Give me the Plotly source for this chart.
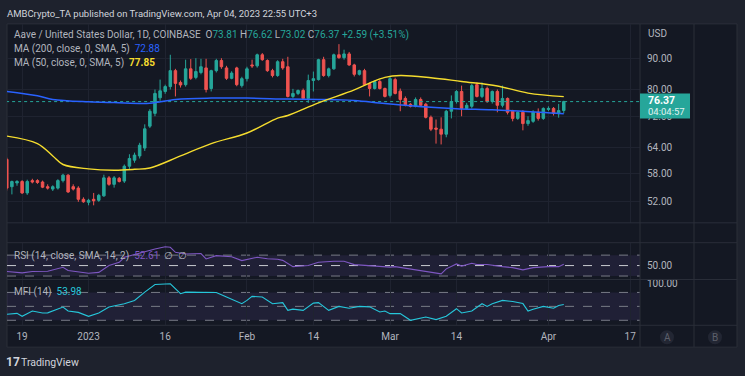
import math
import pandas as pd
import plotly.graph_objects as go

# ---------------- data ----------------
dates = pd.date_range("2022-12-16", "2023-04-04", freq="D")

open_ = [
    # Dec 16-31
    61.2, 55.1, 55.9, 56.2, 53.8, 56.4, 56.4, 56.1, 55.1, 54.6, 54.8, 56.4, 57.6, 55.1, 54.8, 52.5,
    # Jan
    51.9, 52.5, 52.3, 53.2, 57.0, 55.6, 56.9, 56.3, 59.6, 61.0, 62.0, 63.9, 69.5, 73.0, 77.5, 79.4,
    80.9, 86.0, 82.2, 81.5, 86.6, 83.8, 85.4, 86.9, 80.3, 86.0, 89.4, 86.9, 83.5, 86.9, 81.2,
    # Feb
    83.4, 87.9, 87.6, 91.4, 89.4, 86.0, 84.4, 89.0, 87.3, 77.9, 78.8, 79.7, 77.3, 82.8,
    83.1, 89.7, 84.4, 86.6, 91.4, 90.4, 91.7, 87.9, 84.8, 86.0, 81.9, 80.3, 82.5, 80.3,
    # Mar
    78.2, 83.1, 79.5, 77.3, 75.6, 75.0, 77.0, 75.6, 71.9, 69.0, 68.7, 67.4, 73.6, 76.4, 79.4, 74.4,
    75.0, 81.5, 77.9, 80.3, 76.4, 79.4, 75.3, 77.3, 73.6, 71.6, 73.3, 70.2, 70.8, 73.3, 71.6,
    # Apr 1-4
    74.1, 74.4, 72.9, 73.81,
]
high = [
    61.6, 56.4, 56.5, 56.5, 56.6, 56.8, 56.7, 56.4, 55.6, 55.4, 56.7, 57.9, 57.8, 55.6, 55.2, 52.9,
    52.6, 53.8, 53.6, 57.7, 57.4, 57.4, 57.2, 60.0, 62.4, 62.8, 65.2, 70.0, 74.2, 80.0, 83.1, 81.5,
    91.4, 86.6, 82.8, 89.7, 89.9, 90.2, 90.0, 90.0, 86.3, 90.0, 90.2, 87.6, 85.8, 87.3, 84.0,
    87.3, 89.7, 91.8, 92.0, 89.8, 86.6, 89.5, 90.0, 90.7, 80.2, 80.0, 80.3, 84.7, 85.7,
    90.0, 90.7, 87.0, 91.8, 95.2, 93.2, 92.4, 88.3, 86.3, 86.6, 82.2, 82.8, 83.1, 80.6,
    84.1, 83.7, 80.3, 77.9, 75.9, 77.6, 77.6, 76.0, 72.4, 71.3, 71.9, 74.0, 78.2, 79.8, 81.2, 76.0,
    81.8, 82.2, 82.2, 80.9, 79.7, 80.0, 81.2, 77.6, 74.0, 73.6, 73.9, 72.2, 73.9, 74.4, 74.7,
    75.0, 74.8, 75.7, 76.62,
]
low = [
    54.3, 53.5, 55.3, 53.6, 53.4, 55.8, 55.7, 54.8, 54.5, 54.2, 54.5, 56.0, 53.8, 54.3, 52.0, 51.8,
    51.3, 51.3, 52.0, 53.0, 55.3, 54.9, 56.0, 55.9, 59.0, 60.4, 61.4, 63.2, 69.0, 72.2, 76.6, 78.7,
    80.0, 77.9, 80.6, 80.9, 83.0, 83.2, 84.8, 79.1, 79.4, 85.4, 86.6, 83.0, 83.2, 81.0, 80.6,
    82.5, 86.9, 87.0, 89.3, 85.6, 83.8, 84.0, 86.3, 77.6, 77.4, 78.3, 76.9, 76.0, 79.4,
    82.8, 84.0, 83.8, 86.3, 90.0, 89.7, 87.6, 84.1, 84.4, 81.2, 77.9, 80.0, 80.0, 77.6,
    77.6, 78.5, 73.6, 75.0, 74.7, 74.7, 74.8, 71.6, 68.2, 65.0, 64.8, 66.6, 71.6, 75.8, 72.2, 74.0,
    74.4, 77.6, 77.4, 76.0, 75.8, 73.3, 74.7, 72.7, 70.8, 71.2, 68.4, 69.6, 70.4, 71.0, 71.2,
    73.6, 72.4, 71.8, 73.02,
]
close = [
    54.8, 56.2, 56.2, 53.8, 56.2, 56.1, 56.0, 55.0, 54.8, 55.1, 56.4, 57.6, 54.0, 54.6, 52.5, 52.0,
    52.3, 52.2, 53.3, 57.0, 55.6, 57.0, 56.2, 59.6, 61.4, 62.2, 64.6, 68.8, 73.6, 78.8, 79.6, 80.9,
    86.0, 81.9, 81.4, 86.6, 83.5, 85.7, 87.3, 80.0, 86.0, 89.4, 87.3, 83.5, 85.2, 81.5, 83.4,
    86.6, 87.6, 91.4, 89.7, 86.0, 84.4, 89.0, 86.9, 77.9, 78.8, 79.7, 77.3, 82.8, 83.4,
    89.7, 84.4, 86.6, 91.4, 90.4, 91.7, 87.9, 84.8, 86.0, 81.5, 80.3, 82.5, 80.3, 77.9,
    83.4, 78.8, 77.0, 75.3, 75.0, 77.0, 75.3, 71.9, 68.7, 68.7, 67.4, 73.6, 76.4, 79.4, 74.4, 75.3,
    81.2, 77.9, 80.3, 76.4, 79.4, 75.3, 77.3, 73.3, 71.6, 73.3, 70.2, 71.0, 73.3, 71.6, 74.4,
    74.4, 73.0, 73.78, 76.37,
]

ma200_dates = ["2022-12-16", "2022-12-22", "2022-12-25", "2023-01-01", "2023-01-06", "2023-01-13",
               "2023-01-18", "2023-01-25", "2023-02-01", "2023-02-09", "2023-02-15", "2023-02-22",
               "2023-02-28", "2023-03-09", "2023-03-14", "2023-03-21", "2023-03-27", "2023-04-04"]
ma200_vals = [79.4, 78.1, 77.0, 76.3, 76.1, 75.9, 77.0, 77.4, 77.4, 77.1, 77.0, 76.7,
              75.8, 74.7, 74.3, 74.0, 73.6, 72.88]

ma50_dates = ["2022-12-16", "2022-12-22", "2022-12-25", "2022-12-27", "2023-01-01", "2023-01-06",
              "2023-01-10", "2023-01-13", "2023-01-19", "2023-01-25", "2023-02-01", "2023-02-07",
              "2023-02-09", "2023-02-15", "2023-02-22", "2023-02-25", "2023-02-28", "2023-03-03",
              "2023-03-09", "2023-03-15", "2023-03-22", "2023-03-28", "2023-04-04"]
ma50_vals = [66.9, 65.0, 62.0, 60.0, 59.0, 58.7, 58.9, 59.2, 62.0, 65.0, 67.7, 71.7,
             72.4, 76.0, 79.9, 82.0, 83.8, 84.4, 83.7, 82.5, 81.1, 78.9, 77.85]

rsi_dates = ["2022-12-16", "2022-12-19", "2022-12-21", "2022-12-24", "2022-12-27", "2022-12-28",
             "2023-01-01", "2023-01-03", "2023-01-05", "2023-01-07", "2023-01-08", "2023-01-11",
             "2023-01-14", "2023-01-16", "2023-01-17", "2023-01-18", "2023-01-20", "2023-01-23",
             "2023-01-24", "2023-01-26", "2023-01-29", "2023-01-31", "2023-02-03", "2023-02-05",
             "2023-02-07", "2023-02-08", "2023-02-10", "2023-02-13", "2023-02-15", "2023-02-18",
             "2023-02-20", "2023-02-22", "2023-02-24", "2023-02-27", "2023-03-01", "2023-03-02",
             "2023-03-06", "2023-03-09", "2023-03-11", "2023-03-12", "2023-03-14", "2023-03-15",
             "2023-03-17", "2023-03-18", "2023-03-20", "2023-03-23", "2023-03-25", "2023-03-27",
             "2023-03-29", "2023-04-01", "2023-04-03", "2023-04-04"]
rsi_vals = [38.6, 36.0, 38.6, 39.0, 46.8, 40.5, 35.4, 37.0, 50.0, 56.3, 65.9, 74.2,
            81.7, 86.2, 85.0, 75.4, 72.2, 73.0, 62.7, 69.0, 67.0, 59.5, 65.9, 63.0,
            62.0, 60.0, 48.0, 50.0, 56.3, 58.2, 58.2, 51.9, 50.5, 47.0, 47.0, 48.0,
            41.8, 37.3, 34.1, 43.7, 53.2, 49.0, 54.5, 52.0, 52.0, 48.0, 46.0, 41.8,
            46.0, 48.0, 48.0, 52.61]

mfi_dates = ["2022-12-16", "2022-12-18", "2022-12-19", "2022-12-21", "2022-12-23", "2022-12-24",
             "2022-12-27", "2022-12-28", "2022-12-30", "2023-01-01", "2023-01-03", "2023-01-05",
             "2023-01-08", "2023-01-10", "2023-01-12", "2023-01-14", "2023-01-17", "2023-01-18",
             "2023-01-19", "2023-01-20", "2023-01-23", "2023-01-26", "2023-01-28", "2023-01-31",
             "2023-02-01", "2023-02-02", "2023-02-04", "2023-02-06", "2023-02-08", "2023-02-09",
             "2023-02-10", "2023-02-12", "2023-02-14", "2023-02-15", "2023-02-17", "2023-02-19",
             "2023-02-21", "2023-02-23", "2023-02-25", "2023-02-27", "2023-02-28", "2023-03-01",
             "2023-03-03", "2023-03-05", "2023-03-08", "2023-03-10", "2023-03-12", "2023-03-14",
             "2023-03-15", "2023-03-17", "2023-03-19", "2023-03-20", "2023-03-21", "2023-03-23",
             "2023-03-25", "2023-03-27", "2023-03-28", "2023-03-29", "2023-03-31", "2023-04-02",
             "2023-04-03", "2023-04-04"]
mfi_vals = [32.9, 35.0, 28.6, 40.0, 35.7, 36.0, 48.6, 40.0, 37.0, 28.6, 35.7, 48.6,
            55.7, 62.8, 80.6, 97.0, 98.6, 87.9, 77.2, 80.6, 80.6, 80.0, 70.0, 55.7,
            62.8, 71.4, 70.0, 55.7, 58.0, 41.4, 44.0, 41.4, 57.0, 58.0, 41.4, 50.0,
            46.0, 50.0, 49.0, 37.8, 40.0, 34.3, 34.3, 20.0, 27.0, 21.5, 28.6, 45.0,
            35.7, 40.0, 55.7, 50.0, 55.7, 62.8, 60.5, 56.0, 40.0, 44.0, 50.0, 46.0,
            52.0, 53.98]

price_ticks = [52, 58, 64, 72, 80, 90]
time_tickvals = ["2022-12-19", "2023-01-01", "2023-01-16", "2023-02-01", "2023-02-14",
                 "2023-03-01", "2023-03-14", "2023-04-01", "2023-04-17"]
time_ticktext = ["19", "2023", "16", "Feb", "14", "Mar", "14", "Apr", "17"]
last_price = 76.37
ohlc_text = dict(o="73.81", h="76.62", l="73.02", c="76.37", chg="+2.59 (+3.51%)")

# ---------------- styling ----------------
W, H = 745, 376
OUTER = "#1e222d"
INNER = "#141823"
BORDER = "#2a2e39"
GRID = "#1f2330"
TXT = "#b2b5be"
UP = "#26a69a"
DOWN = "#ef5350"
FONT = "Roboto"


def px(x):
    return x / W


def py(y):
    return 1 - y / H


fig = go.Figure()

fig.add_trace(go.Candlestick(
    x=dates, open=open_, high=high, low=low, close=close,
    increasing=dict(line=dict(color=UP, width=1), fillcolor=UP),
    decreasing=dict(line=dict(color=DOWN, width=1), fillcolor=DOWN),
    whiskerwidth=0, xaxis="x", yaxis="y", showlegend=False, hoverinfo="skip"))

fig.add_trace(go.Scatter(x=["2022-12-10", "2023-04-25"], y=[last_price, last_price], mode="lines",
                         line=dict(color=UP, width=1, dash="dot"), xaxis="x", yaxis="y",
                         showlegend=False, hoverinfo="skip"))
fig.add_trace(go.Scatter(x=ma200_dates, y=ma200_vals, mode="lines",
                         line=dict(color="#2962ff", width=1.5, shape="spline"),
                         xaxis="x", yaxis="y", showlegend=False, hoverinfo="skip"))
fig.add_trace(go.Scatter(x=ma50_dates, y=ma50_vals, mode="lines",
                         line=dict(color="#f5dc2e", width=1.4, shape="spline"),
                         xaxis="x", yaxis="y", showlegend=False, hoverinfo="skip"))
fig.add_trace(go.Scatter(x=rsi_dates, y=rsi_vals, mode="lines",
                         line=dict(color="#7e57c2", width=1.1),
                         xaxis="x2", yaxis="y2", showlegend=False, hoverinfo="skip"))
fig.add_trace(go.Scatter(x=mfi_dates, y=mfi_vals, mode="lines",
                         line=dict(color="#26c6da", width=1.1),
                         xaxis="x3", yaxis="y3", showlegend=False, hoverinfo="skip"))

xrange = ["2022-12-16 01:00", "2023-04-18 22:00"]
xdom = [px(7), px(640)]
common_x = dict(domain=xdom, range=xrange, tickvals=time_tickvals, showgrid=True,
                gridcolor=GRID, gridwidth=1, zeroline=False, showline=False, fixedrange=True)

shapes = []
# inner chart background
shapes.append(dict(type="rect", xref="paper", yref="paper", x0=px(7), x1=px(737), y0=py(347), y1=py(22),
                   fillcolor=INNER, line=dict(color=BORDER, width=1), layer="below"))
# indicator bands
shapes.append(dict(type="rect", xref="paper", yref="y2", x0=px(7), x1=px(640), y0=30, y1=70,
                   fillcolor="rgba(126,87,194,0.12)", line=dict(width=0), layer="below"))
shapes.append(dict(type="rect", xref="paper", yref="y3", x0=px(7), x1=px(640), y0=20, y1=80,
                   fillcolor="rgba(126,87,194,0.12)", line=dict(width=0), layer="below"))
for lvl, col in [(70, "#787b86"), (50, "#c8cad0"), (30, "#787b86")]:
    shapes.append(dict(type="line", xref="paper", yref="y2", x0=px(7), x1=px(640), y0=lvl, y1=lvl,
                       line=dict(color=col, width=1, dash="dash"), layer="below"))
for lvl in [80, 50, 20]:
    shapes.append(dict(type="line", xref="paper", yref="y3", x0=px(7), x1=px(640), y0=lvl, y1=lvl,
                       line=dict(color="#787b86", width=1, dash="dash"), layer="below"))
# pane separators
for yy in [222, 242, 279, 325]:
    shapes.append(dict(type="line", xref="paper", yref="paper", x0=px(7), x1=px(737), y0=py(yy), y1=py(yy),
                       line=dict(color=BORDER, width=1)))
for xx in [640, 694]:
    shapes.append(dict(type="line", xref="paper", yref="paper", x0=px(xx), x1=px(xx), y0=py(347), y1=py(22),
                       line=dict(color=BORDER, width=1)))
# price label box
shapes.append(dict(type="rect", xref="paper", yref="paper", x0=px(640), x1=px(690), y0=py(117), y1=py(92),
                   fillcolor=UP, line=dict(width=0), layer="above"))
# A / B buttons
for cx in [667, 715]:
    shapes.append(dict(type="circle", xref="paper", yref="paper", x0=px(cx - 7), x1=px(cx + 7),
                       y0=py(344), y1=py(330), fillcolor="#222633", line=dict(width=0)))

ann = []


def text(x, y, s, size=10.0, color=TXT, anchor="left", bold=False):
    ann.append(dict(x=px(x), y=py(y), xref="paper", yref="paper", text=("<b>%s</b>" % s) if bold else s,
                    showarrow=False, xanchor=anchor, yanchor="middle",
                    font=dict(family=FONT, size=size, color=color)))


def col(s, c):
    return '<span style="color:%s">%s</span>' % (c, s)


text(5, 12, "AMBCrypto_TA published on TradingView.com, Apr 04, 2023 22:55 UTC+3", size=9.5, color="#d1d4dc")
text(12, 33, "Aave / United States Dollar, 1D, COINBASE  "
     + "O" + col(ohlc_text["o"], UP) + " H" + col(ohlc_text["h"], UP)
     + " L" + col(ohlc_text["l"], UP) + " C" + col(ohlc_text["c"], UP) + " " + col(ohlc_text["chg"], UP))
text(12, 47, "MA (200, close, 0, SMA, 5)  " + col("72.88", "#2962ff"))
text(12, 61, "MA (50, close, 0, SMA, 5)  " + col("<b>77.85</b>", "#f5dc2e"))
text(12, 255, "RSI (14, close, SMA, 14, 2)  " + col("52.61", "#7e57c2") + "  ∅  ∅")
text(12, 292, "MFI (14)  " + col("53.98", "#26c6da"))
text(646, 32, "USD", size=10)
text(646, 99, "76.37", size=10.5, color="#ffffff", bold=True)
text(646, 110, "04:04:57", size=9.5, color="#e0f2f1")
text(667, 337, "A", size=10, color="#5d606b", anchor="center")
text(715, 337, "B", size=10, color="#5d606b", anchor="center")
text(4, 362, "<b>17</b>", size=12, color="#d1d4dc")
text(19, 362, "TradingView", size=10.5, color="#d1d4dc")

fig.update_layout(
    width=W, height=H, autosize=False,
    margin=dict(l=0, r=0, t=0, b=0),
    paper_bgcolor=OUTER, plot_bgcolor="rgba(0,0,0,0)",
    font=dict(family=FONT, size=10, color=TXT),
    showlegend=False, hovermode=False,
    xaxis=dict(anchor="y", showticklabels=False, rangeslider=dict(visible=False), **common_x),
    xaxis2=dict(anchor="y2", matches="x", showticklabels=False, **common_x),
    xaxis3=dict(anchor="y3", matches="x", showticklabels=True, ticktext=time_ticktext, ticks="",
                ticklabelstandoff=4, tickfont=dict(family=FONT, size=10, color=TXT), **common_x),
    yaxis=dict(domain=[py(222), py(22)], anchor="x", type="log",
               range=[math.log10(47.97), math.log10(102.9)], side="right",
               tickvals=price_ticks, tickformat=".2f", showgrid=True, gridcolor=GRID,
               zeroline=False, ticks="", ticklabelstandoff=6, fixedrange=True,
               tickfont=dict(family=FONT, size=10, color=TXT)),
    yaxis2=dict(domain=[py(279), py(242)], anchor="x2", range=[23.3, 93.8], side="right",
                tickvals=[50], tickformat=".2f", showgrid=False, zeroline=False, ticks="",
                ticklabelstandoff=6, fixedrange=True, tickfont=dict(family=FONT, size=10, color=TXT)),
    yaxis3=dict(domain=[py(325), py(279)], anchor="x3", range=[9.3, 107.8], side="right",
                tickvals=[100], tickformat=".2f", showgrid=False, zeroline=False, ticks="",
                ticklabelstandoff=6, fixedrange=True, tickfont=dict(family=FONT, size=10, color=TXT)),
    shapes=shapes, annotations=ann,
)

fig.write_html("out.html", config={"displayModeBar": False},
               post_script="document.body.style.margin='0px';")
